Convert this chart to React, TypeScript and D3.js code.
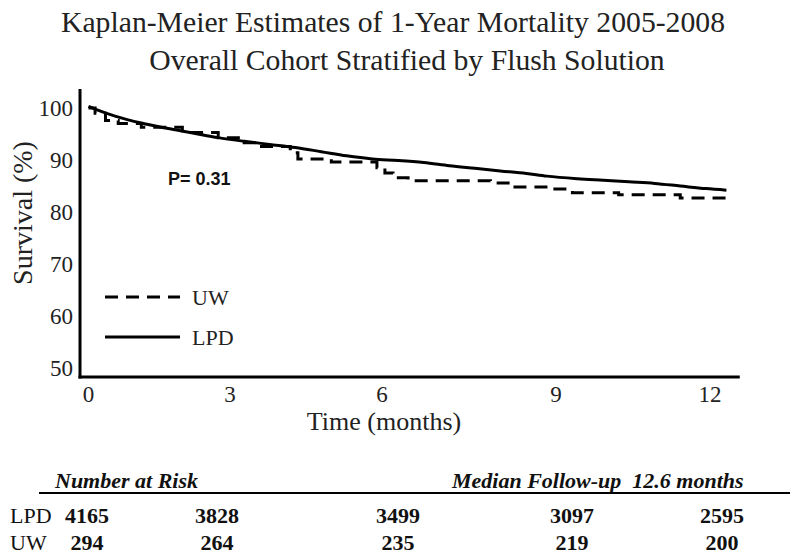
import React from "react";
import * as d3 from "d3";

const titleLines = [
  "Kaplan-Meier Estimates of 1-Year Mortality 2005-2008",
  "Overall Cohort Stratified by Flush Solution",
];

const xTicks = [0, 3, 6, 9, 12];
const yTicks = [50, 60, 70, 80, 90, 100];

// LPD (solid) survival curve: months, percent
const lpdTime = [0, 0.14, 0.58, 1.12, 1.66, 2.21, 2.75, 3.28, 3.78, 4.29, 4.8, 5.3, 5.81, 6.28, 6.72, 7.16, 7.6, 8.04, 8.49, 8.84, 9.42, 9.92, 10.42, 10.92, 11.42, 11.92, 12.32];
const lpdSurv = [100.3, 99.8, 98.4, 97.1, 96.1, 95.2, 94.3, 93.6, 93.0, 92.4, 91.6, 90.8, 90.2, 89.9, 89.5, 88.9, 88.4, 87.9, 87.4, 86.9, 86.4, 86.1, 85.8, 85.5, 85.0, 84.5, 84.2];

// UW (dashed) survival curve: step function
const uwTime = [0, 0.14, 0.36, 0.63, 1.12, 1.99, 2.75, 3.28, 3.48, 4.19, 4.34, 5.0, 5.9, 6.05, 6.19, 6.45, 7.87, 8.22, 8.93, 9.32, 10.22, 11.42, 12.32];
const uwSurv = [100, 99.0, 97.6, 97.0, 96.3, 95.3, 94.3, 93.3, 92.6, 91.4, 90.2, 89.6, 88.5, 87.5, 86.6, 86.0, 85.6, 84.8, 84.4, 83.7, 83.3, 82.7, 82.2];

const legendLabels = ["UW", "LPD"];
const pValueText = "P= 0.31";

const riskHeader = "Number at Risk";
const followUpText = "Median Follow-up\u00a0\u00a012.6 months";
const riskGroups = ["LPD", "UW"];
const lpdRisk = [4165, 3828, 3499, 3097, 2595];
const uwRisk = [294, 264, 235, 219, 200];

const serif = "'Liberation Serif', 'Times New Roman', serif";
const sans = "'Liberation Sans', Arial, sans-serif";

export default function App() {
  const W = 800;
  const H = 560;
  // piecewise-linear time axis, as drawn in the original figure
  const x = d3.scaleLinear().domain([0, 3, 6, 9, 12]).range([88.5, 230, 382, 556, 710]);
  const xMin = -0.18;
  const xMax = 12.58;
  const y = d3.scaleLinear().domain([48.27, 100]).range([377, 108]);
  const yMin = 48.27;

  const lpdPts = lpdTime.map((t, i) => [t, lpdSurv[i]] as [number, number]);
  const uwPts = uwTime.map((t, i) => [t, uwSurv[i]] as [number, number]);

  const lpdLine = d3
    .line<[number, number]>()
    .x((d) => x(d[0]))
    .y((d) => y(d[1]))
    .curve(d3.curveMonotoneX)(lpdPts) as string;
  const uwLine = d3
    .line<[number, number]>()
    .x((d) => x(d[0]))
    .y((d) => y(d[1]))
    .curve(d3.curveStepAfter)(uwPts) as string;

  const colX = d3.scaleOrdinal<number, number>().domain([0, 1, 2, 3, 4]).range([87, 217, 398, 572, 722]);
  const riskRows = [lpdRisk, uwRisk];
  const rowY = d3.scalePoint<string>().domain(riskGroups).range([523, 550]);

  return (
    <svg
      width={W}
      height={H}
      style={{ position: "absolute", left: 0, top: 0, background: "#fff" }}
    >
      <rect x={0} y={0} width={W} height={H} fill="#fff" />
      {titleLines.map((t, i) => (
        <text
          key={t}
          x={i === 0 ? 393 : 407}
          y={32 + i * 38}
          textAnchor="middle"
          fontFamily={serif}
          fontSize={29.7}
          fill="#222"
        >
          {t}
        </text>
      ))}

      {/* axes */}
      <line x1={x(xMin)} x2={x(xMin)} y1={89} y2={y(yMin) + 1.5} stroke="#000" strokeWidth={3} />
      <line x1={x(xMin) - 1.5} x2={x(xMax)} y1={y(yMin)} y2={y(yMin)} stroke="#000" strokeWidth={3} />

      {yTicks.map((v) => (
        <text
          key={v}
          x={73}
          y={y(v) + 8}
          textAnchor="end"
          fontFamily={serif}
          fontSize={23}
          fill="#222"
        >
          {v}
        </text>
      ))}
      {xTicks.map((v) => (
        <text
          key={v}
          x={x(v)}
          y={402}
          textAnchor="middle"
          fontFamily={serif}
          fontSize={23}
          fill="#222"
        >
          {v}
        </text>
      ))}
      <text x={384} y={430} textAnchor="middle" fontFamily={serif} fontSize={26} fill="#222">
        Time (months)
      </text>
      <text
        transform={`translate(32,213) rotate(-90)`}
        textAnchor="middle"
        fontFamily={serif}
        fontSize={28}
        fill="#222"
      >
        Survival (%)
      </text>

      {/* curves */}
      <path d={uwLine} fill="none" stroke="#000" strokeWidth={3} strokeDasharray="13,8" />
      <path d={lpdLine} fill="none" stroke="#000" strokeWidth={3} />

      <text x={168} y={185} fontFamily={sans} fontWeight="bold" fontSize={18} fill="#111">
        {pValueText}
      </text>

      {/* legend */}
      {legendLabels.map((lab, i) => (
        <g key={lab}>
          <line
            x1={105}
            x2={180}
            y1={297 + i * 40}
            y2={297 + i * 40}
            stroke="#000"
            strokeWidth={3}
            strokeDasharray={i === 0 ? "13,8" : undefined}
          />
          <text x={192} y={305 + i * 40} fontFamily={serif} fontSize={22} fill="#222">
            {lab}
          </text>
        </g>
      ))}

      {/* number at risk table */}
      <text x={55} y={488} fontFamily={serif} fontStyle="italic" fontWeight="bold" fontSize={22} fill="#111">
        {riskHeader}
      </text>
      <text x={452} y={488} fontFamily={serif} fontStyle="italic" fontWeight="bold" fontSize={22} fill="#111">
        {followUpText}
      </text>
      <line x1={39} x2={790} y1={493} y2={493} stroke="#000" strokeWidth={2} />
      {riskGroups.map((g, r) => (
        <g key={g}>
          <text x={10} y={rowY(g)} fontFamily={serif} fontSize={22} fill="#111">
            {g}
          </text>
          {riskRows[r].map((n, c) => (
            <text
              key={c}
              x={colX(c)}
              y={rowY(g)}
              textAnchor="middle"
              fontFamily={serif}
              fontWeight="bold"
              fontSize={22}
              fill="#111"
            >
              {n}
            </text>
          ))}
        </g>
      ))}
    </svg>
  );
}
